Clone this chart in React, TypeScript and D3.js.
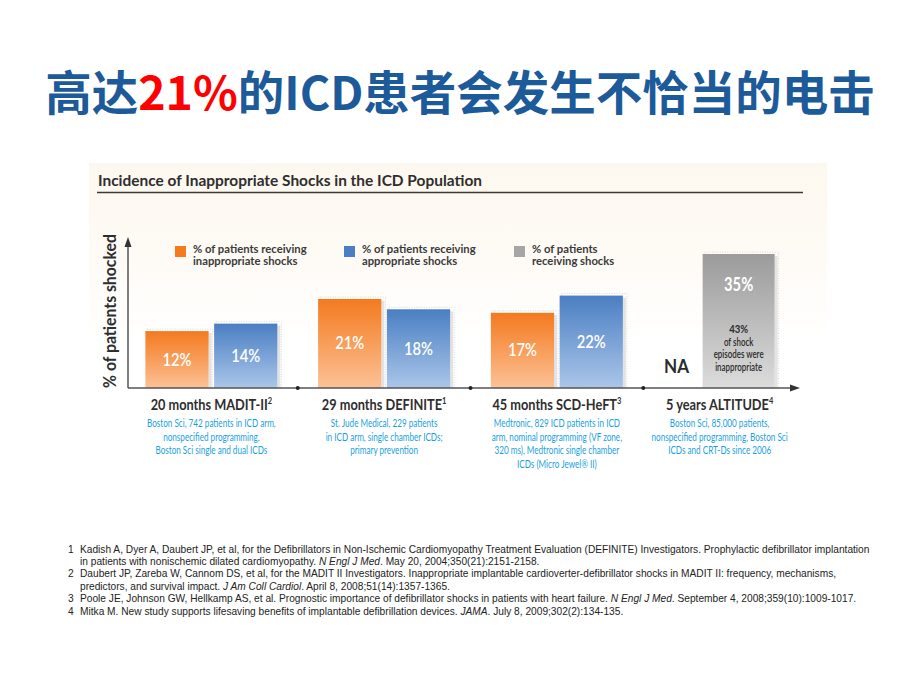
import React from "react";
import * as d3 from "d3";

// ---------- data ----------
const categories = ["20 months MADIT-II", "29 months DEFINITE", "45 months SCD-HeFT", "5 years ALTITUDE"];
const categoryRefs = ["2", "1", "3", "4"];
const inappropriateShocks: (number | null)[] = [12, 21, 17, null];
const appropriateShocks: (number | null)[] = [14, 18, 22, null];
const receivingShocks: (number | null)[] = [null, null, null, 35];
const altitudeNote = ["43%", "of shock", "episodes were", "inappropriate"];
const descriptions = [
  ["Boston Sci, 742 patients in ICD arm,", "nonspecified programming,", "Boston Sci single and dual ICDs"],
  ["St. Jude Medical, 229 patients", "in ICD arm, single chamber ICDs;", "primary prevention"],
  ["Medtronic, 829 ICD patients in ICD", "arm, nominal programming (VF zone,", "320 ms), Medtronic single chamber", "ICDs (Micro Jewel\u00AE II)"],
  ["Boston Sci, 85,000 patients,", "nonspecified programming, Boston Sci", "ICDs and CRT-Ds since 2006"],
];
const legendItems = [
  { key: "inappropriate", lines: ["% of patients receiving", "inappropriate shocks"] },
  { key: "appropriate", lines: ["% of patients receiving", "appropriate shocks"] },
  { key: "received", lines: ["% of patients", "receiving shocks"] },
];
const references: { n: string; lines: { t: string; i?: boolean }[][] }[] = [
  {
    n: "1",
    lines: [
      [{ t: "Kadish A, Dyer A, Daubert JP, et al, for the Defibrillators in Non-Ischemic Cardiomyopathy Treatment Evaluation (DEFINITE) Investigators. Prophylactic defibrillator implantation" }],
      [{ t: "in patients with nonischemic dilated cardiomyopathy. " }, { t: "N Engl J Med", i: true }, { t: ". May 20, 2004;350(21):2151-2158." }],
    ],
  },
  {
    n: "2",
    lines: [
      [{ t: "Daubert JP, Zareba W, Cannom DS, et al, for the MADIT II Investigators. Inappropriate implantable cardioverter-defibrillator shocks in MADIT II: frequency, mechanisms," }],
      [{ t: "predictors, and survival impact. " }, { t: "J Am Coll Cardiol", i: true }, { t: ". April 8, 2008;51(14):1357-1365." }],
    ],
  },
  {
    n: "3",
    lines: [
      [{ t: "Poole JE, Johnson GW, Hellkamp AS, et al. Prognostic importance of defibrillator shocks in patients with heart failure. " }, { t: "N Engl J Med", i: true }, { t: ". September 4, 2008;359(10):1009-1017." }],
    ],
  },
  {
    n: "4",
    lines: [
      [{ t: "Mitka M. New study supports lifesaving benefits of implantable defibrillation devices. " }, { t: "JAMA", i: true }, { t: ". July 8, 2009;302(2):134-135." }],
    ],
  },
];

// ---------- layout ----------
const W = 920, H = 690;
const axisX = 128, baseY = 388, axisTopY = 237, axisRightX = 800;
const colors = {
  inappropriate: ["#f47a1f", "#fcc196"],
  appropriate: ["#4a7fc3", "#abc6e9"],
  received: ["#9b9b9b", "#dcdcdc"],
};
const legendSwatch: Record<string, string> = { inappropriate: "#f47a1f", appropriate: "#4a7fc3", received: "#a6a6a6" };
const chartFont = "Lato, 'Open Sans', sans-serif";
const textDark = "#333333";

const xGroup = d3.scaleBand<string>().domain(categories).range([125, 816]).padding(0);
const xInner = d3.scaleBand<string>().domain(["inappropriate", "appropriate"]).range([-66, 66]).paddingInner(0.08);
const hScale = d3.scalePow().exponent(0.8).domain([0, 35]).range([0, 134]);

function CText(props: {
  x: number; y: number; sx?: number; size: number; weight?: number | string; fill?: string;
  anchor?: "start" | "middle" | "end"; family?: string; children: React.ReactNode; italic?: boolean;
}) {
  const { x, y, sx = 1, size, weight = 400, fill = textDark, anchor = "start", family = chartFont, children, italic } = props;
  return (
    <text
      transform={`translate(${x},${y}) scale(${sx},1)`}
      fontSize={size}
      fontWeight={weight}
      fill={fill}
      textAnchor={anchor}
      fontFamily={family}
      fontStyle={italic ? "italic" : "normal"}
    >
      {children}
    </text>
  );
}

export default function App() {
  const bars: { key: string; cat: string; v: number; x: number; w: number }[] = [];
  categories.forEach((c, i) => {
    const cx = xGroup(c)! + xGroup.bandwidth() / 2;
    if (inappropriateShocks[i] != null)
      bars.push({ key: "inappropriate", cat: c, v: inappropriateShocks[i]!, x: cx + xInner("inappropriate")!, w: xInner.bandwidth() });
    if (appropriateShocks[i] != null)
      bars.push({ key: "appropriate", cat: c, v: appropriateShocks[i]!, x: cx + xInner("appropriate")!, w: xInner.bandwidth() });
    if (receivingShocks[i] != null)
      bars.push({ key: "received", cat: c, v: receivingShocks[i]!, x: cx - 27, w: 72 });
  });
  const naIdx = categories.findIndex((_, i) => inappropriateShocks[i] == null && appropriateShocks[i] == null);
  const naX = xGroup(categories[naIdx])! + xGroup.bandwidth() / 2 - 53;

  return (
    <svg width={W} height={H} style={{ position: "absolute", left: 0, top: 0, background: "#ffffff" }}>
      <defs>
        {Object.entries(colors).map(([k, [top, bot]]) => (
          <linearGradient key={k} id={`g-${k}`} x1="0" y1="0" x2="0" y2="1">
            <stop offset="0" stopColor={top} />
            <stop offset="1" stopColor={bot} />
          </linearGradient>
        ))}
        <linearGradient id="panel" x1="0" y1="0" x2="0" y2="1">
          <stop offset="0" stopColor="#fdf8ef" />
          <stop offset="0.55" stopColor="#fefbf6" />
          <stop offset="1" stopColor="#ffffff" />
        </linearGradient>
      </defs>

      {/* slide title */}
      <text x={460} y={110} textAnchor="middle" fontFamily="'Noto Sans CJK SC', sans-serif" fontWeight={700} fontSize={46.5} fill="#1c5a9a">
        高达<tspan fill="#ff0000">21%</tspan>的ICD患者会发生不恰当的电击
      </text>

      {/* panel background */}
      <rect x={89} y={163} width={738} height={180} fill="url(#panel)" />

      {/* chart title */}
      <CText x={98} y={186} sx={1.03} size={15} weight={700} fill="#2e2e2e">
        Incidence of Inappropriate Shocks in the ICD Population
      </CText>
      <line x1={97} x2={803} y1={192.5} y2={192.5} stroke="#3a3a3a" strokeWidth={1.5} />

      {/* y-axis label */}
      <text
        transform={`translate(116,311) rotate(-90) scale(0.93,1)`}
        textAnchor="middle"
        fontFamily={chartFont}
        fontWeight={700}
        fontSize={17}
        fill="#2e2e2e"
      >
        % of patients shocked
      </text>

      {/* legend */}
      {legendItems.map((it, i) => {
        const lx = [175, 344, 514][i];
        return (
          <g key={it.key}>
            <rect x={lx} y={246} width={11} height={11} fill={legendSwatch[it.key]} />
            {it.lines.map((ln, j) => (
              <CText key={j} x={lx + 18} y={253 + j * 11.5} sx={0.98} size={11.5} weight={700} fill="#3a3a3a">
                {ln}
              </CText>
            ))}
          </g>
        );
      })}

      {/* bars */}
      {bars.map((b, i) => {
        const h = hScale(b.v);
        const top = baseY - h;
        return (
          <g key={i}>
            <rect x={b.x + 2} y={top - 2} width={b.w + 2} height={h + 2} fill="none" stroke="#d9d9d9" strokeDasharray="1 1.5" />
            <rect x={b.x + b.w} y={top + 2} width={3} height={h - 2} fill="#e3e3e3" />
            <rect x={b.x} y={top} width={b.w} height={h} fill={`url(#g-${b.key})`} />
            <CText
              x={b.x + b.w / 2}
              y={b.key === "received" ? top + 37 : top + h / 2 + 6}
              sx={0.82}
              size={18}
              weight={b.key === "received" ? 700 : 600}
              fill="#ffffff"
              anchor="middle"
            >
              {`${b.v}%`}
            </CText>
            {b.key === "received" &&
              altitudeNote.map((t, j) => (
                <CText
                  key={j}
                  x={b.x + b.w / 2}
                  y={baseY - 55 + j * 12.7}
                  sx={j === 0 ? 0.8 : 0.72}
                  size={j === 0 ? 12 : 11}
                  weight={j === 0 ? 700 : 600}
                  fill="#2b2b2b"
                  anchor="middle"
                >
                  {t}
                </CText>
              ))}
          </g>
        );
      })}
      <CText x={naX} y={373} sx={0.9} size={19} weight={700} fill="#2b2b2b" anchor="middle">
        NA
      </CText>

      {/* axes */}
      <line x1={axisX} x2={axisX} y1={baseY} y2={axisTopY + 8} stroke="#555" strokeWidth={1.5} />
      <path d={`M${axisX},${axisTopY} L${axisX - 3.5},${axisTopY + 10} L${axisX + 3.5},${axisTopY + 10} Z`} fill="#333" />
      <line x1={axisX} x2={axisRightX - 8} y1={baseY} y2={baseY} stroke="#555" strokeWidth={1.5} />
      <path d={`M${axisRightX},${baseY} L${axisRightX - 10},${baseY - 3.5} L${axisRightX - 10},${baseY + 3.5} Z`} fill="#333" />
      {categories.slice(1).map((c) => (
        <circle key={c} cx={xGroup(c)!} cy={baseY} r={2} fill="#222" />
      ))}

      {/* category labels & descriptions */}
      {categories.map((c, i) => {
        const cx = xGroup(c)! + xGroup.bandwidth() / 2 + (i === 3 ? -10 : 0);
        return (
          <g key={c}>
            <CText x={cx} y={410} sx={0.88} size={14.5} weight={700} fill="#2e2e2e" anchor="middle">
              {c}
              <tspan fontSize={8.5} dy={-6}>{categoryRefs[i]}</tspan>
            </CText>
            {descriptions[i].map((ln, j) => (
              <CText key={j} x={cx} y={427 + j * 13.6} sx={0.74} size={11} weight={400} fill="#1a9fe0" anchor="middle">
                {ln}
              </CText>
            ))}
          </g>
        );
      })}

      {/* references */}
      {(() => {
        let row = 0;
        return references.map((r) => (
          <g key={r.n}>
            {r.lines.map((segs, j) => {
              const y = 552.5 + (row++) * 12.45;
              return (
                <g key={j}>
                  {j === 0 && (
                    <CText x={68} y={y} sx={0.97} size={10.5} family="'Liberation Sans', Arial, sans-serif" fill="#222">
                      {r.n}
                    </CText>
                  )}
                  <CText x={80} y={y} sx={0.97} size={10.5} family="'Liberation Sans', Arial, sans-serif" fill="#222">
                    {segs.map((s, k) => (
                      <tspan key={k} fontStyle={s.i ? "italic" : "normal"}>{s.t}</tspan>
                    ))}
                  </CText>
                </g>
              );
            })}
          </g>
        ));
      })()}
    </svg>
  );
}
